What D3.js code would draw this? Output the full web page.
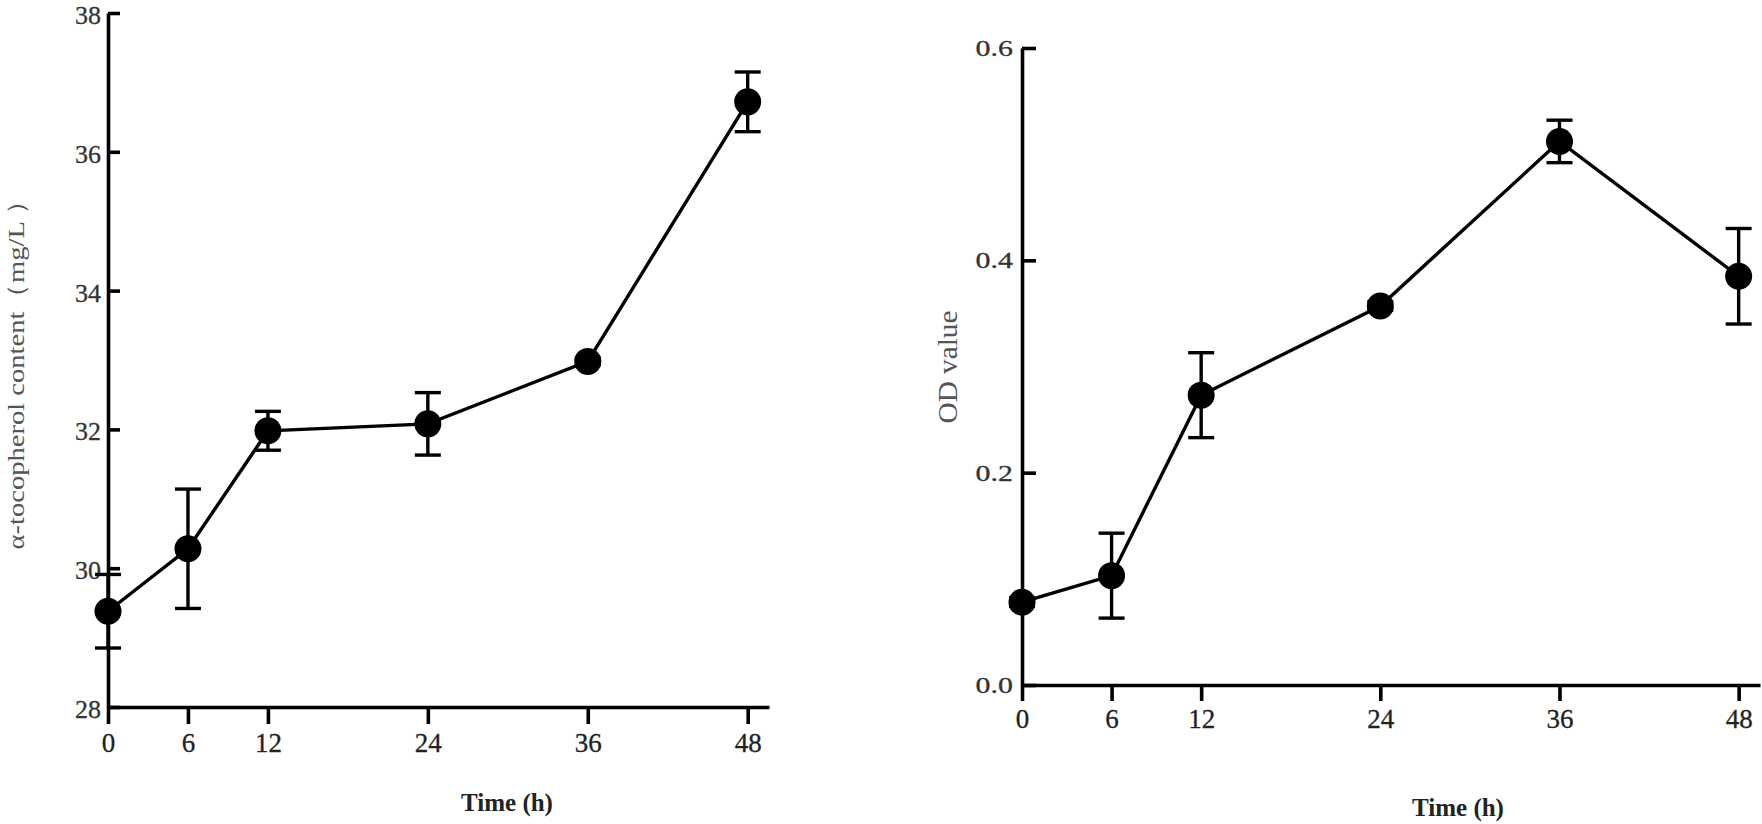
<!DOCTYPE html>
<html>
<head>
<meta charset="utf-8">
<!-- Load d3.js -->
<script src="https://d3js.org/d3.v7.min.js"></script>
<style>
  body { margin: 0; background: #fff; }
  text { font-family: "Liberation Serif", "Times New Roman", serif; }
</style>
</head>
<body>

<!-- Create a div where the graph will take place -->
<div id="my_dataviz"></div>

<script>

// data
var timePoints = [0, 6, 12, 24, 36, 48];
var timeTicks = [0, 6, 12, 24, 36, 48];

var tocoMean = [29.38, 30.28, 31.98, 32.08, 32.98, 36.72];
var tocoErr  = [0.53, 0.86, 0.28, 0.45, 0.05, 0.43];
var tocoTicks = [28, 30, 32, 34, 36, 38];

var odMean = [0.078, 0.103, 0.273, 0.357, 0.512, 0.385];
var odErr  = [0.004, 0.04, 0.04, 0.004, 0.02, 0.045];
var odTicks = [0, 0.2, 0.4, 0.6];

var svg = d3.select("#my_dataviz")
  .append("svg")
    .attr("width", 1762)
    .attr("height", 824);

// draws one panel: axes, line, error bars and dots
function drawPanel(opt) {

  var x = d3.scaleLinear()
    .domain([0, opt.xMax])
    .range([opt.left, opt.right]);

  var y = d3.scaleLinear()
    .domain(opt.yDomain)
    .range([opt.bottom, opt.top]);

  var data = timePoints.map(function(t, i) {
    return {time: t, value: opt.mean[i], err: opt.err[i]};
  });

  // X axis
  var gx = svg.append("g")
    .attr("transform", "translate(0," + opt.bottom + ")")
    .call(d3.axisBottom(x)
      .tickValues(timeTicks)
      .tickSizeInner(opt.xTick)
      .tickSizeOuter(0)
      .tickPadding(opt.xPad));
  gx.select(".domain").attr("stroke", "#000").attr("stroke-width", 3.6);
  gx.selectAll(".tick line").attr("stroke", "#000").attr("stroke-width", 3.6);
  gx.selectAll(".tick text")
    .style("font-size", opt.xFont + "px")
    .attr("fill", "#222")
    .attr("stroke", "#222")
    .attr("stroke-width", 0.3);

  // Y axis, ticks pointing inside
  var gy = svg.append("g")
    .attr("transform", "translate(" + opt.left + ",0)")
    .call(d3.axisLeft(y)
      .tickValues(opt.yTicks)
      .tickFormat(opt.yFormat)
      .tickSizeInner(-opt.yTick)
      .tickSizeOuter(0)
      .tickPadding(opt.yPad));
  gy.select(".domain").attr("stroke", "#000").attr("stroke-width", 3.6);
  gy.selectAll(".tick line").attr("stroke", "#000").attr("stroke-width", 3.6);
  gy.selectAll(".tick text")
    .style("font-size", opt.yFont + "px")
    .attr("dy", opt.yDy)
    .attr("fill", "#333")
    .attr("stroke", "#333")
    .attr("stroke-width", 0.3)
    .attr("transform", "scale(" + opt.yStretch + ",1)");

  // the line
  var line = d3.line()
    .x(function(d) { return x(d.time); })
    .y(function(d) { return y(d.value); });

  svg.append("path")
    .datum(data)
    .attr("d", line)
    .attr("fill", "none")
    .attr("stroke", "#000")
    .attr("stroke-width", 3.4);

  // error bars
  var bars = svg.append("g")
    .selectAll("g")
    .data(data)
    .enter()
    .append("g")
      .attr("stroke", "#000")
      .attr("stroke-width", 3.4);

  bars.append("line")
    .attr("x1", function(d) { return x(d.time); })
    .attr("x2", function(d) { return x(d.time); })
    .attr("y1", function(d) { return y(d.value + d.err); })
    .attr("y2", function(d) { return y(d.value - d.err); });

  [1, -1].forEach(function(s) {
    bars.append("line")
      .attr("x1", function(d) { return x(d.time) - 13; })
      .attr("x2", function(d) { return x(d.time) + 13; })
      .attr("y1", function(d) { return y(d.value + s * d.err); })
      .attr("y2", function(d) { return y(d.value + s * d.err); });
  });

  // the dots
  svg.append("g")
    .selectAll("circle")
    .data(data)
    .enter()
    .append("circle")
      .attr("cx", function(d) { return x(d.time); })
      .attr("cy", function(d) { return y(d.value); })
      .attr("r", 13.5)
      .attr("fill", "#000");

  // x title
  svg.append("text")
    .attr("x", opt.xTitleX)
    .attr("y", opt.xTitleY)
    .attr("text-anchor", "middle")
    .style("font-size", "25px")
    .style("font-weight", "bold")
    .attr("fill", "#222")
    .text("Time (h)");

  // y title
  svg.append("text")
    .attr("transform", "translate(" + opt.yTitleX + "," + opt.yTitleY + ") rotate(-90)")
    .attr("text-anchor", "middle")
    .attr("dy", "0.35em")
    .attr("textLength", opt.yTitleLen)
    .attr("lengthAdjust", "spacingAndGlyphs")
    .style("font-size", opt.yTitleFont + "px")
    .attr("fill", "#555")
    .text(opt.yTitle);
}

// left panel: alpha-tocopherol
drawPanel({
  left: 108, right: 769, top: 13, bottom: 707,
  xMax: 49.6, yDomain: [28, 38], yTicks: tocoTicks,
  yFormat: d3.format("d"),
  mean: tocoMean, err: tocoErr,
  xTick: 17, xPad: 9, xFont: 27,
  yTick: 12, yPad: 7, yFont: 26, yStretch: 1, yDy: "0.4em",
  xTitleX: 507, xTitleY: 811,
  yTitleX: 16, yTitleY: 368, yTitleLen: 363, yTitleFont: 24,
  yTitle: "α-tocopherol content（mg/L ）"
});

// right panel: OD value
drawPanel({
  left: 1022, right: 1760, top: 48, bottom: 685,
  xMax: 49.43, yDomain: [0, 0.6], yTicks: odTicks,
  yFormat: d3.format(".1f"),
  mean: odMean, err: odErr,
  xTick: 16, xPad: 8, xFont: 27,
  yTick: 14, yPad: 7, yFont: 23, yStretch: 1.3, yDy: "0.32em",
  xTitleX: 1458, xTitleY: 816,
  yTitleX: 947, yTitleY: 367, yTitleLen: 113, yTitleFont: 28,
  yTitle: "OD value"
});

</script>
</body>
</html>
